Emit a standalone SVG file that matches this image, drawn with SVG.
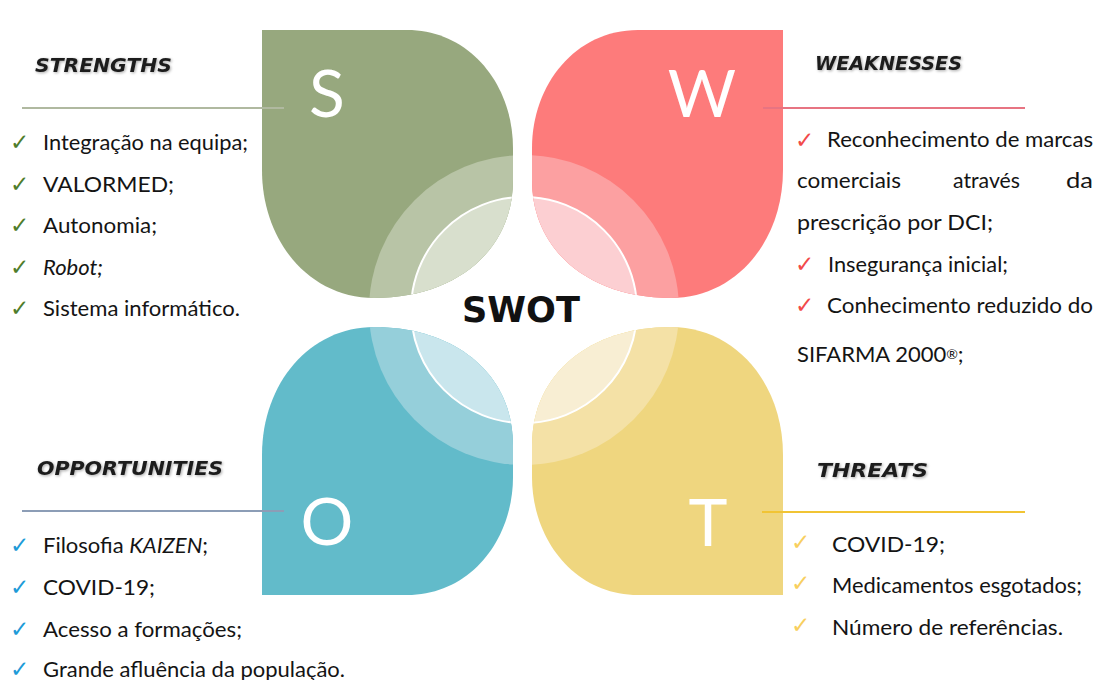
<svg xmlns="http://www.w3.org/2000/svg" width="1099" height="680" viewBox="0 0 1099 680">
  <defs>
    <!-- one teardrop petal, square corner at the origin -->
    <path id="petal" d="M0,0 H145 C208,0 251,55 251,118 V150 C251,222 192,268 112,268 C48,268 0,212 0,140 Z"/>
    <clipPath id="clipS"><use href="#petal" transform="translate(262,30)"/></clipPath>
    <clipPath id="clipW"><use href="#petal" transform="translate(783,30) scale(-1,1)"/></clipPath>
    <clipPath id="clipO"><use href="#petal" transform="translate(262,595) scale(1,-1)"/></clipPath>
    <clipPath id="clipT"><use href="#petal" transform="translate(783,595) scale(-1,-1)"/></clipPath>
    <filter id="soft" x="-10%" y="-40%" width="120%" height="180%">
      <feGaussianBlur in="SourceAlpha" stdDeviation="1.6" result="b"/>
      <feOffset dx="1" dy="1" result="o"/>
      <feComponentTransfer in="o" result="s"><feFuncA type="linear" slope="0.35"/></feComponentTransfer>
      <feMerge><feMergeNode in="s"/><feMergeNode in="SourceGraphic"/></feMerge>
    </filter>
  </defs>
  <style>
    .item { font-family: Lato, "Open Sans", "Liberation Sans", sans-serif; font-size: 22px; fill: #141414; }
    .head { font-family: "DejaVu Sans", "Liberation Sans", sans-serif; font-weight: bold; font-style: italic; font-size: 19px; fill: #1c1c1c; }
    .letter { font-family: Lato, "Open Sans", "Liberation Sans", sans-serif; font-size: 66px; fill: #ffffff; text-anchor: middle; }
    .chk { font-family: "DejaVu Sans", sans-serif; font-size: 23px; }
    .inner { stroke: #ffffff; stroke-width: 2; }
    .lead { stroke-width: 2; fill: none; }
  </style>
  <rect width="1099" height="680" fill="#ffffff"/>

  <!-- Strengths -->
  <g id="strengths">
    <g clip-path="url(#clipS)">
      <rect x="262" y="30" width="251" height="268" fill="#97a87e"/>
      <circle cx="524" cy="310" r="155" fill="#b8c4a6"/>
      <circle class="inner" cx="524" cy="310" r="113" fill="#d8dfcd"/>
    </g>
    <text class="letter" x="327" y="117">S</text>
    <text class="head" x="35" y="72" textLength="137" lengthAdjust="spacingAndGlyphs" filter="url(#soft)">STRENGTHS</text>
    <g class="chk" fill="#4f7d2c">
      <text x="10" y="150">✓</text>
      <text x="10" y="192">✓</text>
      <text x="10" y="233">✓</text>
      <text x="10" y="275">✓</text>
      <text x="10" y="316">✓</text>
    </g>
    <text class="item" x="43" y="150" textLength="205" lengthAdjust="spacingAndGlyphs">Integração na equipa;</text>
    <text class="item" x="43" y="192" textLength="131" lengthAdjust="spacingAndGlyphs">VALORMED;</text>
    <text class="item" x="43" y="233" textLength="114" lengthAdjust="spacingAndGlyphs">Autonomia;</text>
    <text class="item" x="43" y="275" font-style="italic">Robot;</text>
    <text class="item" x="43" y="316" textLength="197" lengthAdjust="spacingAndGlyphs">Sistema informático.</text>
  </g>

  <!-- Weaknesses -->
  <g id="weaknesses">
    <g clip-path="url(#clipW)">
      <rect x="532" y="30" width="251" height="268" fill="#fd7b7b"/>
      <circle cx="524" cy="310" r="155" fill="#fca0a1"/>
      <circle class="inner" cx="524" cy="310" r="113" fill="#fccfd2"/>
    </g>
    <text class="letter" x="702" y="117">W</text>
    <text class="head" x="815" y="70" textLength="147" lengthAdjust="spacingAndGlyphs" filter="url(#soft)">WEAKNESSES</text>
    <g class="chk" fill="#f24a4a" font-size="21">
      <text x="795" y="148">✓</text>
      <text x="795" y="272">✓</text>
      <text x="795" y="313">✓</text>
    </g>
    <text class="item" x="827" y="147" textLength="266" lengthAdjust="spacingAndGlyphs">Reconhecimento de marcas</text>
    <text class="item" x="797" y="188" textLength="104" lengthAdjust="spacingAndGlyphs">comerciais</text>
    <text class="item" x="953" y="188" textLength="67" lengthAdjust="spacingAndGlyphs">através</text>
    <text class="item" x="1066" y="188" textLength="27" lengthAdjust="spacingAndGlyphs">da</text>
    <text class="item" x="797" y="230" textLength="196" lengthAdjust="spacingAndGlyphs">prescrição por DCI;</text>
    <text class="item" x="828" y="272" textLength="180" lengthAdjust="spacingAndGlyphs">Insegurança inicial;</text>
    <text class="item" x="827" y="313" textLength="266" lengthAdjust="spacingAndGlyphs">Conhecimento reduzido do</text>
    <text class="item" x="797" y="362">SIFARMA 2000<tspan font-size="14" dy="-3">®</tspan><tspan dy="3">;</tspan></text>
  </g>

  <!-- Opportunities -->
  <g id="opportunities">
    <g clip-path="url(#clipO)">
      <rect x="262" y="323" width="251" height="272" fill="#62bbca"/>
      <circle cx="524" cy="310" r="155" fill="#95cfda"/>
      <circle class="inner" cx="524" cy="310" r="113" fill="#c9e6ed"/>
    </g>
    <text class="letter" x="327" y="545">O</text>
    <text class="head" x="37" y="475" textLength="186" lengthAdjust="spacingAndGlyphs" filter="url(#soft)">OPPORTUNITIES</text>
    <g class="chk" fill="#1d9bd8">
      <text x="10" y="553">✓</text>
      <text x="10" y="595">✓</text>
      <text x="10" y="637">✓</text>
      <text x="10" y="677">✓</text>
    </g>
    <text class="item" x="43" y="553">Filosofia <tspan font-style="italic">KAIZEN</tspan>;</text>
    <text class="item" x="43" y="595" textLength="112" lengthAdjust="spacingAndGlyphs">COVID-19;</text>
    <text class="item" x="43" y="637" textLength="199" lengthAdjust="spacingAndGlyphs">Acesso a formações;</text>
    <text class="item" x="43" y="677" textLength="302" lengthAdjust="spacingAndGlyphs">Grande afluência da população.</text>
  </g>

  <!-- Threats -->
  <g id="threats">
    <g clip-path="url(#clipT)">
      <rect x="532" y="323" width="251" height="272" fill="#efd67f"/>
      <circle cx="524" cy="310" r="155" fill="#f4e1a6"/>
      <circle class="inner" cx="524" cy="310" r="113" fill="#f8eed3"/>
    </g>
    <text class="letter" x="708" y="546">T</text>
    <text class="head" x="817" y="477" textLength="111" lengthAdjust="spacingAndGlyphs" filter="url(#soft)">THREATS</text>
    <g class="chk" fill="#f8cf5e">
      <text x="791" y="550">✓</text>
      <text x="791" y="591">✓</text>
      <text x="791" y="633">✓</text>
    </g>
    <text class="item" x="832" y="552" textLength="113" lengthAdjust="spacingAndGlyphs">COVID-19;</text>
    <text class="item" x="832" y="593" textLength="250" lengthAdjust="spacingAndGlyphs">Medicamentos esgotados;</text>
    <text class="item" x="832" y="635" textLength="231" lengthAdjust="spacingAndGlyphs">Número de referências.</text>
  </g>

  <!-- centre title -->
  <g id="swot">
    <text x="462" y="322" textLength="118" lengthAdjust="spacingAndGlyphs" font-family="'DejaVu Sans', sans-serif" font-weight="bold" font-size="35" fill="#111111">SWOT</text>
  </g>

  <!-- leader lines from each letter to its heading -->
  <g id="connectors" class="lead">
    <line x1="22" y1="108" x2="284" y2="108" stroke="#b0b9a0"/>
    <line x1="763" y1="108" x2="1025" y2="108" stroke="#e77482"/>
    <line x1="22" y1="511" x2="284" y2="511" stroke="#8c9db6"/>
    <line x1="762" y1="512" x2="1025" y2="512" stroke="#f1c434"/>
  </g>
</svg>
